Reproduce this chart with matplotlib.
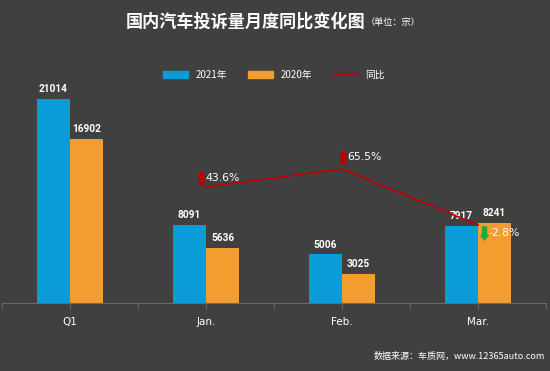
import numpy as np
import matplotlib
matplotlib.use("Agg")
import matplotlib.pyplot as plt
from matplotlib.path import Path
from matplotlib.patches import Patch
from matplotlib.lines import Line2D
from matplotlib.transforms import offset_copy

# data
categories = ["Q1", "Jan.", "Feb.", "Mar."]
values_2021 = [21014, 8091, 5006, 7917]
values_2020 = [16902, 5636, 3025, 8241]
yoy_pct = [43.6, 65.5, -2.8]          # for Jan., Feb., Mar.
yoy_labels = ["43.6%", "65.5%", "-2.8%"]

BG = "#404040"
BLUE = "#0A9CD9"
ORANGE = "#F39C2F"
RED = "#C00000"
GREEN = "#1FA843"
CJK = ["Noto Sans CJK SC", "DejaVu Sans"]

plt.rcParams["font.family"] = CJK

# block arrow marker (pointing up)
arrow_up = Path(
    [(-0.15, -0.5), (0.15, -0.5), (0.15, 0.15), (0.27, 0.15), (0.0, 0.5),
     (-0.27, 0.15), (-0.15, 0.15), (-0.15, -0.5)],
    [Path.MOVETO] + [Path.LINETO] * 6 + [Path.CLOSEPOLY],
)
arrow_down = Path(arrow_up.vertices * np.array([1, -1]), arrow_up.codes)

fig = plt.figure(figsize=(5.5, 3.71), dpi=100, facecolor=BG)
ax = fig.add_axes([2 / 550, 68 / 371, 544 / 550, 246 / 371])
ax.set_facecolor(BG)
ax2 = ax.twinx()

x = np.arange(len(categories))
w = 0.243
b1 = ax.bar(x - w / 2, values_2021, w, color=BLUE)
b2 = ax.bar(x + w / 2, values_2020, w, color=ORANGE)

for bars, vals in ((b1, values_2021), (b2, values_2020)):
    for rect, v in zip(bars, vals):
        ax.annotate(f"{v}", (rect.get_x() + rect.get_width() / 2, v),
                    xytext=(0, 3.5), textcoords="offset points",
                    ha="center", va="bottom", color="white",
                    fontsize=7.3, fontweight="bold", family="Roboto")

ax.set_xlim(-0.5, len(categories) - 0.5)
ax.set_ylim(0, 25360)
ax.set_xticks(x)
ax.set_xticks(np.arange(-0.5, len(categories)), minor=True)
ax.set_xticklabels(categories, color="white", fontsize=7.5, family="DejaVu Sans")
ax.tick_params(axis="x", which="both", length=4, color="#6a6a6a", pad=6)
ax.set_yticks([])
for s in ["top", "left", "right"]:
    ax.spines[s].set_visible(False)
ax.spines["bottom"].set_color("#6a6a6a")

# year-on-year line on the secondary axis
x_line = x[1:]
ax2.plot(x_line, yoy_pct, color=RED, lw=1.2)
ax2.set_ylim(-98, 202)
ax2.set_yticks([])
for s in ax2.spines.values():
    s.set_visible(False)

# arrow + text offsets (points) relative to each line point
arrow_offsets = [(-3.6, 6.5), (0.7, 8.6), (4.3, -5.6)]
for xi, v, lab, (dx, dy) in zip(x_line, yoy_pct, yoy_labels, arrow_offsets):
    tr = offset_copy(ax2.transData, fig=fig, x=dx, y=dy, units="points")
    ax2.plot([xi], [v], marker=arrow_up if v >= 0 else arrow_down,
             markersize=9.5, color=RED if v >= 0 else GREEN,
             transform=tr, clip_on=False)
    tr_t = offset_copy(ax2.transData, fig=fig, x=dx + 3.0, y=dy, units="points")
    ax2.text(xi, v, lab, transform=tr_t, color="white", fontsize=7.8,
             ha="left", va="center", family="DejaVu Sans")

# title
fig.text(126 / 550, 1 - 22 / 371, "国内汽车投诉量月度同比变化图", color="white",
         fontsize=12.3, fontweight="bold", ha="left", va="center")
fig.text(366 / 550, 1 - 23 / 371, "（单位：宗）", color="white",
         fontsize=6.6, ha="left", va="center")

handles = [Patch(color=BLUE), Patch(color=ORANGE), Line2D([], [], color=RED, lw=1.2)]
fig.legend(handles, ["2021年", "2020年", "同比"], loc="center",
           bbox_to_anchor=(0.498, 1 - 75 / 371), ncol=3, frameon=False,
           fontsize=7, labelcolor="white", handlelength=2.6, handleheight=0.8,
           handletextpad=0.7, columnspacing=2.2)

fig.text(545 / 550, 1 - 356 / 371, "数据来源：车质网，www.12365auto.com",
         color="white", fontsize=6.5, ha="right", va="center")

fig.savefig("out.png", dpi=100, facecolor=BG)
